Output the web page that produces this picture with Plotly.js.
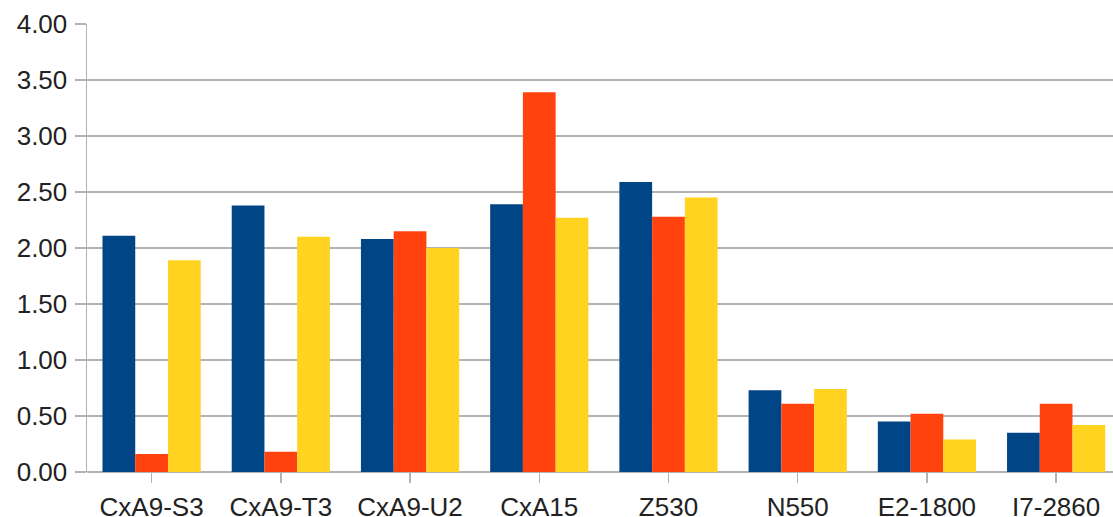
<!DOCTYPE html>
<html>
<head>
<meta charset="utf-8">
<script src="https://cdn.plot.ly/plotly-3.0.1.min.js"></script>
<style>html,body{margin:0;padding:0;background:#fff;}#chart{width:1113px;height:517px;}</style>
</head>
<body>
<div id="chart"></div>
<script>
const categories = ["CxA9-S3", "CxA9-T3", "CxA9-U2", "CxA15", "Z530", "N550", "E2-1800", "I7-2860"];
const series1 = [2.11, 2.38, 2.08, 2.39, 2.59, 0.73, 0.45, 0.35];
const series2 = [0.16, 0.18, 2.15, 3.39, 2.28, 0.61, 0.52, 0.61];
const series3 = [1.89, 2.10, 2.00, 2.27, 2.45, 0.74, 0.29, 0.42];
const yTicks = [0, 0.5, 1, 1.5, 2, 2.5, 3, 3.5, 4];
const colors = ["#004586", "#ff420e", "#ffd320"];

const x = categories.map((c, i) => i);
const traces = [series1, series2, series3].map((s, k) => ({
  type: "bar", x: x, y: s, marker: {color: colors[k], line: {width: 0}},
  hoverinfo: "skip"
}));

const layout = {
  width: 1113, height: 517,
  margin: {l: 87, r: 0, t: 24, b: 45},
  paper_bgcolor: "#ffffff", plot_bgcolor: "#ffffff",
  showlegend: false,
  barmode: "group", bargap: 0.24, bargroupgap: 0,
  font: {family: "Liberation Sans, Arial, sans-serif", color: "#222222", size: 26},
  xaxis: {
    range: [-0.5, 7.44], tickmode: "array", tickvals: x, ticktext: categories,
    tickson: "boundaries", ticks: "outside", ticklen: 10, tickcolor: "#b3b3b3", tickwidth: 1.5,
    showline: false, showgrid: false, zeroline: false,
    tickfont: {size: 26, color: "#222222"}, ticklabelstandoff: 2
  },
  yaxis: {
    range: [0, 4], tickmode: "array", tickvals: yTicks, tickformat: ".2f",
    ticks: "outside", ticklen: 11, tickcolor: "#b3b3b3", tickwidth: 1.5,
    showgrid: true, gridcolor: "#b3b3b3", gridwidth: 1.5,
    showline: true, linecolor: "#b3b3b3", linewidth: 1.5,
    zeroline: true, zerolinecolor: "#b3b3b3", zerolinewidth: 1.5,
    tickfont: {size: 26, color: "#222222"}, ticklabelstandoff: 2
  }
};
Plotly.newPlot("chart", traces, layout, {staticPlot: true, displayModeBar: false});
</script>
</body>
</html>
